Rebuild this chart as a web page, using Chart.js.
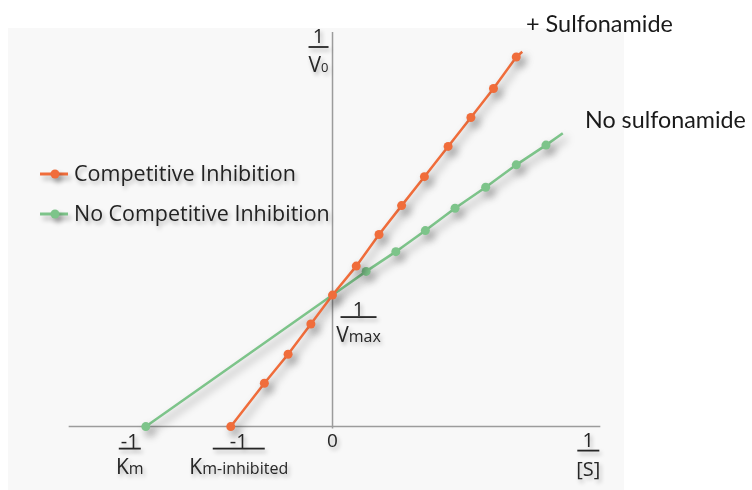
<!DOCTYPE html>
<html>
<head>
<meta charset="utf-8">
<script src="https://cdn.jsdelivr.net/npm/chart.js"></script>
<style>
  html, body { margin: 0; padding: 0; background: #ffffff; }
  #wrap { width: 752px; height: 490px; position: relative; }
</style>
</head>
<body>
<div id="wrap"><canvas id="c" width="752" height="490"></canvas></div>
<script>
// ---- Data (1/[S] on x, 1/V0 on y, arbitrary units) ----
const seriesNames = ["Competitive Inhibition", "No Competitive Inhibition"];
const compX = [-0.545, -0.365, -0.238, -0.116, 0, 0.127, 0.249, 0.370, 0.492, 0.619, 0.741, 0.862, 0.984, 1.016];
const compY = [0, 0.33, 0.55, 0.78, 1.0, 1.22, 1.46, 1.68, 1.90, 2.13, 2.35, 2.57, 2.81, 2.85];
const noInhX = [-1.0, 0, 0.18, 0.339, 0.497, 0.656, 0.82, 0.984, 1.143, 1.233];
const noInhY = [0, 1.0, 1.18, 1.33, 1.49, 1.66, 1.82, 1.99, 2.14, 2.23];
const xAxisLineX = [-1.413, 1.434];
const xAxisLineY = [0, 0];
const yAxisLineX = [0, 0];
const yAxisLineY = [-0.015, 3.0];
const seriesTags = ["+ Sulfonamide", "No sulfonamide"];
const tickZero = "0";

const toPts = (xs, ys) => xs.map((x, i) => ({ x: x, y: ys[i] }));

const ORANGE = '#f06d3b';
const GREEN = '#7dc48a';
const AXIS = '#9c9c9c';
const TEXT = '#262626';
const FONT = '"Open Sans", "DejaVu Sans", sans-serif';
const TAGFONT = 'Lato, "Open Sans", sans-serif';

function fitSize(ctx, text, family, weight, target) {
  ctx.font = weight + ' 20px ' + family;
  const w = ctx.measureText(text).width;
  return 20 * target / w;
}

function textShadow(ctx) {
  ctx.shadowColor = 'rgba(0,0,0,0.28)';
  ctx.shadowBlur = 4;
  ctx.shadowOffsetX = 2;
  ctx.shadowOffsetY = 3;
}

// Draw a run of [text, size] pieces centred at cx, baseline-aligned, middle at cy
function drawRuns(ctx, runs, cx, cy) {
  let total = 0;
  runs.forEach(r => { ctx.font = r[1] + 'px ' + FONT; total += ctx.measureText(r[0]).width; });
  let x = cx - total / 2;
  const mainSize = runs[0][1];
  ctx.textBaseline = 'alphabetic';
  ctx.textAlign = 'left';
  const base = cy + mainSize * 0.36;
  runs.forEach(r => {
    ctx.font = r[1] + 'px ' + FONT;
    ctx.fillText(r[0], x, base);
    x += ctx.measureText(r[0]).width;
  });
}

function fraction(ctx, num, denRuns, cx, numY, barY, denY, barW) {
  ctx.fillStyle = TEXT;
  drawRuns(ctx, [[num, 20]], cx, numY);
  ctx.fillRect(cx - barW / 2, barY - 0.9, barW, 1.8);
  drawRuns(ctx, denRuns, cx, denY);
}

const panelPlugin = {
  id: 'panel',
  beforeDraw(chart) {
    const ctx = chart.ctx;
    ctx.save();
    ctx.fillStyle = '#ffffff';
    ctx.fillRect(0, 0, chart.width, chart.height);
    ctx.fillStyle = '#f8f8f8';
    ctx.fillRect(8, 28, 616, 462);
    ctx.restore();
  }
};

const shadowPlugin = {
  id: 'shadow',
  beforeDatasetDraw(chart, args) {
    const ds = chart.data.datasets[args.index];
    chart.ctx.save();
    if (ds.shadow) {
      chart.ctx.shadowColor = 'rgba(0,0,0,0.4)';
      chart.ctx.shadowBlur = 8;
      chart.ctx.shadowOffsetX = 4;
      chart.ctx.shadowOffsetY = 5;
    }
  },
  afterDatasetDraw(chart) {
    chart.ctx.restore();
  }
};

const labelPlugin = {
  id: 'labels',
  afterDatasetsDraw(chart) {
    const ctx = chart.ctx;
    const xs = chart.scales.x, ys = chart.scales.y;
    const px = v => xs.getPixelForValue(v);
    const py = v => ys.getPixelForValue(v);
    ctx.save();
    textShadow(ctx);
    ctx.fillStyle = TEXT;

    // y-axis title 1/V0
    fraction(ctx, '1', [['V', 21], ['0', 13]], px(0) - 14, 36, 47, 64, 20);
    // 1/Vmax near the y-intercept
    fraction(ctx, '1', [['V', 21], ['max', 16]], px(0) + 26, py(compY[4]) + 14, py(compY[4]) + 22, py(compY[4]) + 39, 36);
    // -1/Km at green x-intercept
    fraction(ctx, '-1', [['K', 21], ['m', 16]], px(noInhX[0]) - 16, py(0) + 14, py(0) + 22, py(0) + 40, 22);
    // -1/Km-inhibited at orange x-intercept
    fraction(ctx, '-1', [['K', 21], ['m-inhibited', 16]], px(compX[0]) + 8, py(0) + 14, py(0) + 22, py(0) + 40, 52);
    // 0 tick
    drawRuns(ctx, [[tickZero, 19]], px(0), py(0) + 14);
    // x-axis title 1/[S]
    fraction(ctx, '1', [['[S]', 20]], px(xAxisLineX[1]) - 12, py(0) + 13, py(0) + 24, py(0) + 42, 22);

    // Legend
    const rows = [[ORANGE, seriesNames[0], 174, 222], [GREEN, seriesNames[1], 214, 256]];
    rows.forEach(r => {
      ctx.save();
      ctx.shadowColor = 'rgba(0,0,0,0.3)';
      ctx.shadowBlur = 5; ctx.shadowOffsetX = 3; ctx.shadowOffsetY = 4;
      ctx.strokeStyle = r[0]; ctx.lineWidth = 3;
      ctx.beginPath(); ctx.moveTo(40, r[2]); ctx.lineTo(68, r[2]); ctx.stroke();
      ctx.fillStyle = r[0];
      ctx.beginPath(); ctx.arc(55, r[2], 4.5, 0, Math.PI * 2); ctx.fill();
      ctx.restore();
      const s = fitSize(ctx, r[1], FONT, '', r[3]);
      ctx.font = s + 'px ' + FONT;
      ctx.textAlign = 'left';
      ctx.textBaseline = 'middle';
      ctx.fillStyle = '#222222';
      ctx.fillText(r[1], 74, r[2] + 1);
    });
    ctx.restore();

    // Series tags (no shadow)
    ctx.save();
    ctx.fillStyle = '#1a1a1a';
    ctx.textAlign = 'left';
    ctx.textBaseline = 'middle';
    let s1 = fitSize(ctx, seriesTags[0], TAGFONT, '', 147);
    ctx.font = s1 + 'px ' + TAGFONT;
    ctx.fillText(seriesTags[0], 526, 24);
    let s2 = fitSize(ctx, seriesTags[1], TAGFONT, '', 161);
    ctx.font = s2 + 'px ' + TAGFONT;
    ctx.fillText(seriesTags[1], 585, 120);
    ctx.restore();
  }
};

const lastIdx = compX.length - 1;
const greenLast = noInhX.length - 1;

new Chart(document.getElementById('c'), {
  type: 'scatter',
  data: {
    datasets: [
      {
        label: seriesNames[0],
        data: toPts(compX, compY),
        showLine: true,
        borderColor: ORANGE,
        backgroundColor: ORANGE,
        borderWidth: 2.5,
        pointRadius: c => (c.dataIndex === lastIdx ? 0 : 4.5),
        pointBorderWidth: 0,
        shadow: true,
        order: 1
      },
      {
        label: seriesNames[1],
        data: toPts(noInhX, noInhY),
        showLine: true,
        borderColor: GREEN,
        backgroundColor: GREEN,
        borderWidth: 2.5,
        pointRadius: c => (c.dataIndex === 1 || c.dataIndex === greenLast ? 0 : 4.5),
        pointBorderWidth: 0,
        shadow: true,
        order: 2
      },
      {
        label: 'x-axis',
        data: toPts(xAxisLineX, xAxisLineY),
        showLine: true,
        borderColor: AXIS,
        borderWidth: 1.5,
        pointRadius: 0,
        order: 3
      },
      {
        label: 'y-axis',
        data: toPts(yAxisLineX, yAxisLineY),
        showLine: true,
        borderColor: AXIS,
        borderWidth: 1.5,
        pointRadius: 0,
        order: 3
      }
    ]
  },
  options: {
    responsive: false,
    animation: false,
    layout: { padding: 0 },
    plugins: { legend: { display: false }, tooltip: { enabled: false } },
    scales: {
      x: { type: 'linear', display: false, min: -332 / 189, max: 420 / 189 },
      y: { type: 'linear', display: false, min: -60 / 134, max: 430 / 134 }
    }
  },
  plugins: [panelPlugin, shadowPlugin, labelPlugin]
});
</script>
</body>
</html>
